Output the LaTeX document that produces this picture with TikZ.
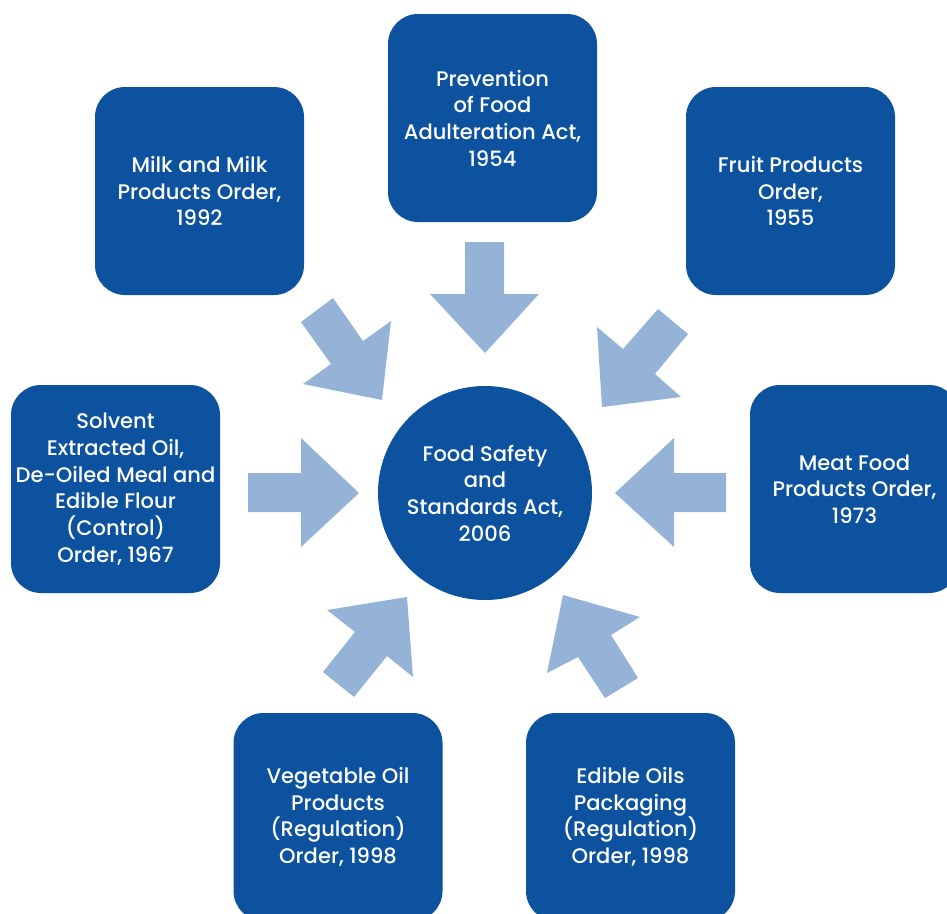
\documentclass[tikz,border=0pt]{standalone}
\usepackage{fontspec}
\setmainfont{Poppins}[UprightFont={* Medium}]
\usepackage{tikz}

\definecolor{actblue}{HTML}{0C529E}
\definecolor{pointblue}{HTML}{94B3D7}

\tikzset{
  actbox/.style={fill=actblue, text=white, rounded corners=22.5pt,
    minimum width=156.75pt, minimum height=156pt, inner sep=0pt,
    align=center, font=\fontsize{15.8}{20}\selectfont},
  actcircle/.style={circle, fill=actblue, text=white, minimum size=160.5pt,
    inner sep=0pt, align=center, font=\fontsize{15.8}{20}\selectfont},
  pointer/.style={fill=pointblue}
}

\begin{document}
\begin{tikzpicture}[x=0.75pt, y=-0.75pt]
\useasboundingbox (0, 0) rectangle (947, 914);
\clip (0, 0) rectangle (947, 914);
%\draw[help lines, step=50] (0, 0) grid (947, 914);

% the act in the middle
\node [actcircle] (fssa) at (485, 493) {Food Safety\\and\\Standards Act,\\2006};

% the older orders round it
\node [actbox] (pfa) at (492.5, 118) {Prevention\\of Food\\Adulteration Act,\\1954};
\node [actbox] (milk) at (199.5, 191) {Milk and Milk\\Products Order,\\1992};
\node [actbox] (fruit) at (790.5, 191) {Fruit Products\\Order,\\1955};
\node [actbox] (solvent) at (115.5, 489) {Solvent\\Extracted Oil,\\De-Oiled Meal and\\Edible Flour\\(Control)\\Order, 1967};
\node [actbox] (meat) at (854.5, 489) {Meat Food\\Products Order,\\1973};
\node [actbox] (veg) at (338, 817) {Vegetable Oil\\Products\\(Regulation)\\Order, 1998};
\node [actbox] (edible) at (630.5, 817) {Edible Oils\\Packaging\\(Regulation)\\Order, 1998};

% block arrows pointing in
\fill [pointer] (465, 242) -- (504, 242) -- (504, 294) -- (539, 294) -- (485, 353) -- (430, 294) -- (465, 294) -- cycle;
\fill [pointer] (301, 322) -- (333, 298) -- (363, 341) -- (391, 321) -- (382, 400) -- (303, 384) -- (331, 364) -- cycle;
\fill [pointer] (688, 334) -- (658, 309) -- (623, 349) -- (597, 327) -- (602, 407) -- (681, 397) -- (655, 374) -- cycle;
\fill [pointer] (248, 473) -- (301, 473) -- (301, 438) -- (359, 493) -- (301, 547) -- (301, 512) -- (248, 512) -- cycle;
\fill [pointer] (726, 473) -- (674, 473) -- (674, 438) -- (615, 493) -- (674, 547) -- (674, 512) -- (726, 512) -- cycle;
\fill [pointer] (323, 672) -- (355, 632) -- (327, 610) -- (407, 597) -- (413, 677) -- (387, 656) -- (354, 697) -- cycle;
\fill [pointer] (605, 698) -- (578, 657) -- (547, 673) -- (563, 595) -- (640, 617) -- (611, 635) -- (638, 678) -- cycle;
\end{tikzpicture}
\end{document}
